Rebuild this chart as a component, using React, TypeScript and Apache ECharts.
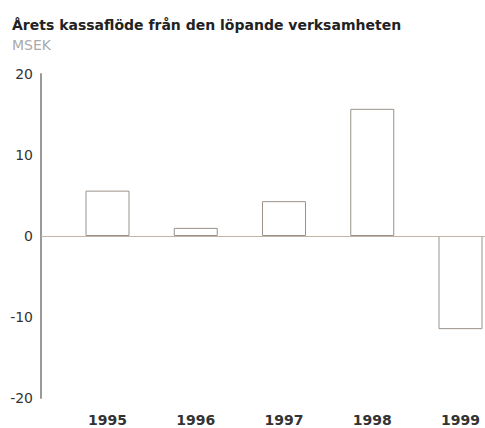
import React, { useEffect, useRef } from "react";
import * as echarts from "echarts";

const years = [1995, 1996, 1997, 1998, 1999];
const cashFlow = [5.6, 1.0, 4.3, 15.7, -11.5];
const yTicks = { min: -20, max: 20, interval: 10 };
const titleText = "Årets kassaflöde från den löpande verksamheten";
const unitText = "MSEK";

export default function App() {
  const ref = useRef<HTMLDivElement>(null);
  useEffect(() => {
    if (!ref.current) return;
    const chart = echarts.init(ref.current, null, { renderer: "svg" });
    const font = "DejaVu Sans";
    chart.setOption({
      animation: false,
      backgroundColor: "#ffffff",
      title: {
        text: titleText,
        subtext: unitText,
        left: 12,
        top: 18,
        itemGap: 6,
        padding: 0,
        textStyle: { fontFamily: font, fontSize: 14, fontWeight: 600, color: "#222222" },
        subtextStyle: { fontFamily: font, fontSize: 14, color: "#aaaaaa" },
      },
      grid: { left: 41, right: 0, top: 74, bottom: 30 },
      xAxis: {
        type: "value",
        min: 1994.2465,
        max: 1999.2776,
        axisLine: { show: false, onZero: false },
        axisTick: { show: false },
        splitLine: { show: false },
        axisLabel: {
          customValues: years,
          formatter: (v: number) => String(v),
          fontFamily: font,
          fontSize: 14,
          fontWeight: 600,
          color: "#333333",
          margin: 15,
        },
      },
      yAxis: {
        type: "value",
        min: yTicks.min,
        max: yTicks.max,
        interval: yTicks.interval,
        axisLine: { show: true, lineStyle: { color: "#999999", width: 2 } },
        axisTick: { show: false },
        splitLine: { show: false },
        axisLabel: { fontFamily: font, fontSize: 14, color: "#333333", margin: 8 },
      },
      series: [
        {
          type: "bar",
          data: years.map((y, i) => [y, cashFlow[i]]),
          barWidth: 44,
          itemStyle: { color: "#ffffff", borderColor: "#9a928a", borderWidth: 1 },
          markLine: {
            silent: true,
            symbol: ["none", "none"],
            label: { show: false },
            lineStyle: { color: "#c4b4a4", type: "solid", width: 1 },
            data: [{ yAxis: 0 }],
          },
        },
      ],
    });
    return () => chart.dispose();
  }, []);
  return (
    <div
      ref={ref}
      style={{ position: "absolute", left: 0, top: 0, width: 485, height: 428 }}
    />
  );
}
